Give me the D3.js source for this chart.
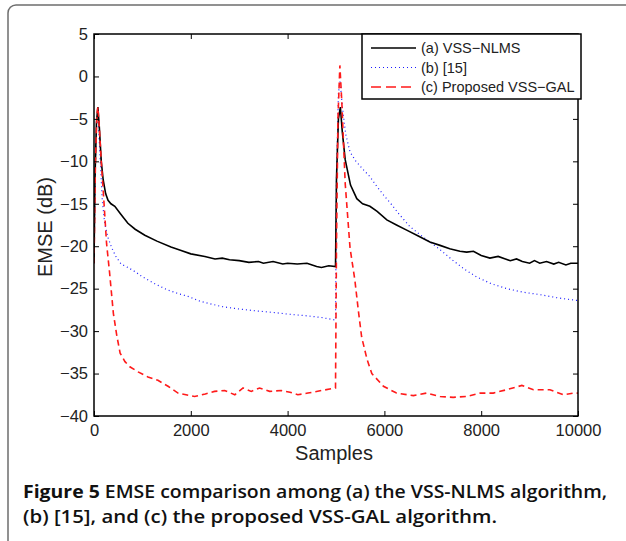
<!DOCTYPE html>
<html>
<head>
<meta charset="utf-8">
<script src="https://cdn.jsdelivr.net/npm/d3@7"></script>
<style>
  body { margin: 0; background: #fff; }
  svg { display: block; }
</style>
</head>
<body>
<svg id="chart" width="626" height="541"></svg>
<script>
// EMSE curves: [sample, dB]
const nlmsCurve = [
  [0,-22],[20,-12],[50,-5.5],[80,-3.6],[110,-6],[150,-10],[190,-12.2],[240,-13.8],[290,-14.6],
  [350,-15.0],[430,-15.3],[550,-16.2],[700,-17.3],[850,-18.0],[1050,-18.7],[1300,-19.4],
  [1590,-20.1],[1800,-20.5],[2000,-20.9],[2290,-21.2],[2500,-21.5],[2650,-21.4],[2800,-21.6],
  [3000,-21.7],[3200,-21.9],[3400,-21.8],[3500,-22.0],[3700,-21.8],[3900,-22.1],[4000,-22.0],
  [4200,-22.1],[4400,-22.0],[4600,-22.4],[4700,-22.5],[4850,-22.3],[4990,-22.4],[5010,-12],
  [5050,-5],[5090,-3.6],[5130,-6.5],[5190,-9.8],[5300,-12.8],[5430,-14.4],[5550,-15.0],
  [5700,-15.3],[5850,-15.9],[6050,-16.9],[6250,-17.5],[6460,-18.1],[6700,-18.8],[6940,-19.5],
  [7150,-19.9],[7350,-20.3],[7560,-20.6],[7700,-20.7],[7840,-20.6],[8000,-21.1],[8180,-21.4],
  [8350,-21.2],[8500,-21.5],[8600,-21.7],[8730,-21.5],[8850,-21.8],[9000,-22.0],[9100,-21.7],
  [9210,-22.0],[9350,-21.8],[9500,-22.1],[9600,-21.9],[9750,-22.2],[9850,-22.0],[10000,-22.0]
];
const ref15Curve = [
  [0,-22],[30,-10],[60,-5],[90,-5.5],[130,-10],[170,-14.5],[220,-17.3],[290,-19],[360,-20.1],
  [450,-21.2],[560,-22.1],[700,-22.5],[850,-23.0],[1000,-23.6],[1250,-24.4],[1500,-25.1],
  [1750,-25.6],[1940,-25.9],[2200,-26.5],[2630,-27.1],[3000,-27.4],[3320,-27.6],[3700,-27.8],
  [4010,-28.0],[4400,-28.2],[4700,-28.4],[4990,-28.7],[5010,-12],[5050,-2],[5085,-0.5],
  [5130,-3.5],[5200,-6.8],[5290,-8.9],[5400,-9.9],[5550,-10.9],[5700,-11.8],[5850,-13.0],
  [6000,-14.1],[6150,-15.1],[6300,-16.2],[6530,-17.7],[6750,-18.7],[6940,-19.5],[7150,-20.4],
  [7400,-21.6],[7650,-22.7],[7900,-23.6],[8200,-24.4],[8530,-25.0],[8850,-25.4],[9210,-25.7],
  [9600,-26.1],[10000,-26.4]
];
const galCurve = [
  [0,-22],[30,-10],[60,-4.5],[80,-3.6],[110,-6],[150,-10],[190,-13.4],[260,-19.7],[320,-23],
  [400,-27.9],[470,-30.5],[540,-32.6],[640,-33.6],[740,-34.2],[910,-34.8],[1115,-35.4],
  [1320,-35.8],[1530,-36.5],[1735,-37.3],[1900,-37.5],[2080,-37.7],[2300,-37.4],[2490,-37.1],
  [2700,-37.0],[2910,-37.5],[3080,-36.7],[3250,-37.1],[3420,-36.7],[3630,-37.1],[3870,-37.0],
  [4050,-37.2],[4210,-37.5],[4420,-37.3],[4700,-37.0],[4990,-36.7],[5010,-20],[5040,-5],
  [5080,1.3],[5120,-3],[5190,-12.6],[5290,-20.2],[5390,-24.0],[5460,-27.5],[5530,-30.7],
  [5640,-33.3],[5740,-35.0],[5980,-36.5],[6250,-37.3],[6600,-37.6],[6870,-37.3],[7150,-37.7],
  [7420,-37.8],[7700,-37.7],[7980,-37.3],[8250,-37.3],[8530,-36.9],[8840,-36.4],[9080,-36.9],
  [9420,-36.9],[9700,-37.5],[9900,-37.3],[10000,-37.3]
];

const xTicks = [0, 2000, 4000, 6000, 8000, 10000];
const yTicks = [5, 0, -5, -10, -15, -20, -25, -30, -35, -40];
const legendLabels = ["(a) VSS\u2212NLMS", "(b) [15]", "(c) Proposed VSS\u2212GAL"];

const svg = d3.select("#chart");
const plot = { left: 94, top: 34, right: 578, bottom: 416 };
const axisFont = "'Liberation Sans', Arial, sans-serif";

// cadre de la figure
svg.append("rect")
    .attr("x", 8).attr("y", 5)
    .attr("width", 640).attr("height", 560)
    .attr("rx", 8)
    .attr("fill", "none")
    .attr("stroke", "#6e6e6e")
    .attr("stroke-width", 1.5);

const x = d3.scaleLinear().domain([0, 10000]).range([plot.left, plot.right]);
const y = d3.scaleLinear().domain([-40, 5]).range([plot.bottom, plot.top]);

const g = svg.append("g");

// courbes
const line = d3.line().x(d => x(d[0])).y(d => y(d[1]));
const series = [
    { data: ref15Curve, color: "#1a1aff", width: 1.2, dash: "1,3" },
    { data: nlmsCurve, color: "#000", width: 1.6, dash: null },
    { data: galCurve, color: "#ff1a1a", width: 1.6, dash: "6,4" }
];
svg.append("clipPath").attr("id", "clip")
    .append("rect")
    .attr("x", plot.left).attr("y", plot.top)
    .attr("width", plot.right - plot.left).attr("height", plot.bottom - plot.top);
series.forEach(function (s) {
    g.append("path")
        .attr("d", line(s.data))
        .attr("fill", "none")
        .attr("stroke", s.color)
        .attr("stroke-width", s.width)
        .attr("stroke-dasharray", s.dash)
        .attr("clip-path", "url(#clip)");
});

// axes (boite matlab, graduations vers l'interieur)
function styleAxis(sel) {
    sel.select(".domain").remove();
    sel.selectAll("line").attr("stroke", "#000").attr("stroke-width", 1);
    sel.selectAll("text").attr("font-family", axisFont).attr("font-size", 16.5).attr("fill", "#222");
}
g.append("g").attr("transform", `translate(0,${plot.bottom})`)
    .call(d3.axisBottom(x).tickValues(xTicks).tickSize(-5).tickPadding(8).tickFormat(d3.format("d")))
    .call(styleAxis);
g.append("g").attr("transform", `translate(0,${plot.top})`)
    .call(d3.axisTop(x).tickValues(xTicks).tickSize(-5).tickFormat(""))
    .call(styleAxis);
g.append("g").attr("transform", `translate(${plot.left},0)`)
    .call(d3.axisLeft(y).tickValues(yTicks).tickSize(-5).tickPadding(6)
        .tickFormat(d => d < 0 ? "\u2212" + Math.abs(d) : d))
    .call(styleAxis);
g.append("g").attr("transform", `translate(${plot.right},0)`)
    .call(d3.axisRight(y).tickValues(yTicks).tickSize(-5).tickFormat(""))
    .call(styleAxis);

g.append("rect")
    .attr("x", plot.left).attr("y", plot.top)
    .attr("width", plot.right - plot.left).attr("height", plot.bottom - plot.top)
    .attr("fill", "none").attr("stroke", "#000").attr("stroke-width", 1.5);

// titres des axes
svg.append("text")
    .attr("x", 334).attr("y", 460)
    .attr("text-anchor", "middle")
    .attr("font-family", axisFont).attr("font-size", 20).attr("fill", "#222")
    .text("Samples");
svg.append("text")
    .attr("transform", "translate(52,227) rotate(-90)")
    .attr("text-anchor", "middle")
    .attr("font-family", axisFont).attr("font-size", 20).attr("fill", "#222")
    .text("EMSE (dB)");

// legende
const legend = svg.append("g").attr("transform", "translate(362,34)");
legend.append("rect")
    .attr("width", 219).attr("height", 65)
    .attr("fill", "#fff").attr("stroke", "#000").attr("stroke-width", 1.5);
const legendStyles = [series[1], series[0], series[2]];
legendLabels.forEach(function (label, i) {
    const ly = 14 + i * 19.5;
    const s = legendStyles[i];
    legend.append("line")
        .attr("x1", 9).attr("x2", 54).attr("y1", ly).attr("y2", ly)
        .attr("stroke", s.color).attr("stroke-width", s.width)
        .attr("stroke-dasharray", s.dash === "6,4" ? "10,5" : s.dash);
    legend.append("text")
        .attr("x", 59).attr("y", ly + 5)
        .attr("font-family", axisFont).attr("font-size", 14.5).attr("fill", "#222")
        .text(label);
});

// legende de la figure
const caption = svg.append("g")
    .attr("font-family", "'Open Sans', 'Noto Sans', sans-serif")
    .attr("font-size", 18).attr("fill", "#111");
const line1 = caption.append("text").attr("x", 23).attr("y", 498)
    .attr("textLength", 584).attr("lengthAdjust", "spacingAndGlyphs");
line1.append("tspan").attr("font-weight", "bold").text("Figure 5");
line1.append("tspan").attr("font-weight", "600").text(" EMSE comparison among (a) the VSS-NLMS algorithm,");
caption.append("text").attr("x", 23).attr("y", 523)
    .attr("font-weight", "600")
    .attr("textLength", 474).attr("lengthAdjust", "spacingAndGlyphs")
    .text("(b) [15], and (c) the proposed VSS-GAL algorithm.");
</script>
</body>
</html>
